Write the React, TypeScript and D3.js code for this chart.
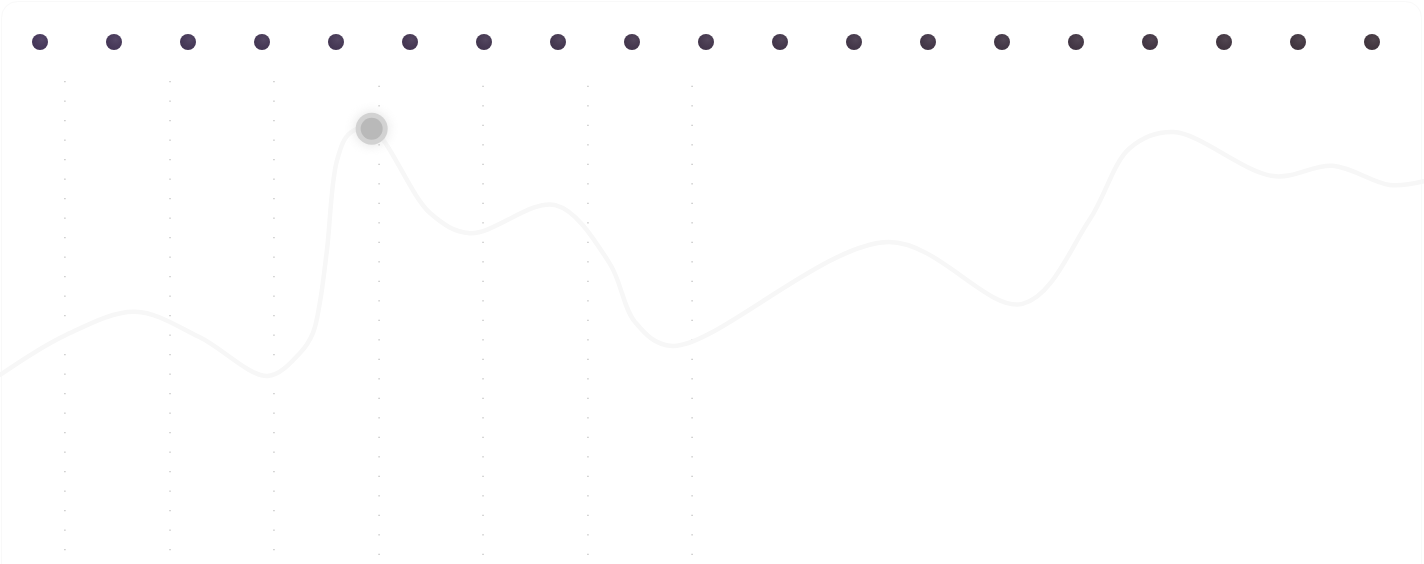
import React from "react";
import * as d3 from "d3";

const W = 1424;
const H = 564;

// Top row of timeline markers (index positions)
const markerIndex = d3.range(19);
const markerColorStart = "#47385c";
const markerColorEnd = "#42363f";

// Vertical dotted guide positions (in x-units, 0..100) and their start/end values
const guideX = [4.56, 11.94, 19.24, 26.62, 33.92, 41.29, 48.6];
const guideTop = [100.2, 100.2, 100.2, 99.2, 99.2, 99.2, 99.2];
const guideBottom = [-0.5, -0.5, -0.5, -1.5, -1.5, -1.5, -1.5];

// Curve samples (x in 0..100 units, y value 0..100)
const curveX = [0, 4.6, 9.5, 14.0, 18.8, 21.07, 21.98, 22.47, 22.96, 23.67, 24.58, 26.1, 30.2, 33.0, 39.0, 42.8, 44.6, 47.2, 62.4, 71.8, 76.5, 79.35, 82.4, 89.4, 93.6, 97.6, 100];
const curveY = [37.4, 45.9, 50.9, 45.5, 37.2, 42.1, 46.4, 53.0, 64.1, 83.3, 89.1, 90.0, 72.0, 67.7, 73.7, 61.3, 48.7, 43.6, 65.8, 52.6, 70.5, 85.9, 89.3, 79.9, 82.1, 78.0, 78.8];

// Highlighted point index
const highlightIndex = 11;

export default function App() {
  const x = d3.scaleLinear().domain([0, 100]).range([0, W]);
  const y = d3.scaleLinear().domain([0, 100]).range([550, 82]);
  const mx = d3.scaleLinear().domain([0, 18]).range([40, 1372]);
  const mColor = d3.scaleLinear<string>().domain([0, 18]).range([markerColorStart, markerColorEnd]).interpolate(d3.interpolateRgb);

  const pts = curveX.map((v, i) => [x(v), y(curveY[i])] as [number, number]);
  const line = d3.line().curve(d3.curveCatmullRom.alpha(0.5))(pts) || "";
  const hp = pts[highlightIndex];

  return (
    <div style={{ position: "fixed", left: 0, top: 0, width: W, height: H, background: "#fff" }}>
      <svg width={W} height={H} style={{ display: "block" }}>
        <defs>
          <filter id="glow" x="-100%" y="-100%" width="300%" height="300%">
            <feGaussianBlur stdDeviation="5" />
          </filter>
          <radialGradient id="dotShade" cx="60%" cy="35%" r="70%">
            <stop offset="0%" stopColor="#ffffff" stopOpacity="0.08" />
            <stop offset="100%" stopColor="#000000" stopOpacity="0.05" />
          </radialGradient>
        </defs>
        <rect x={1.5} y={1.5} width={1420} height={640} rx={16} fill="none" stroke="#f9f9f9" strokeWidth={1} />
        {guideX.map((g, i) => (
          <line
            key={i}
            x1={x(g)}
            x2={x(g)}
            y1={y(guideTop[i])}
            y2={y(guideBottom[i])}
            stroke="#a8a8a8"
            strokeWidth={1}
            strokeDasharray="1.2 18.3"
          />
        ))}
        <path d={line} fill="none" stroke="#f7f7f7" strokeWidth={4.5} strokeLinecap="round" />
        <circle cx={hp[0]} cy={hp[1]} r={18} fill="#c8c8c8" opacity={0.35} filter="url(#glow)" />
        <circle cx={hp[0]} cy={hp[1]} r={16} fill="#d2d2d2" />
        <circle cx={hp[0]} cy={hp[1]} r={11} fill="#b9b9b9" />
        {markerIndex.map((i) => (
          <g key={i}>
            <circle cx={mx(i)} cy={42} r={8} fill={mColor(i)} />
            <circle cx={mx(i)} cy={42} r={8} fill="url(#dotShade)" />
          </g>
        ))}
      </svg>
    </div>
  );
}
